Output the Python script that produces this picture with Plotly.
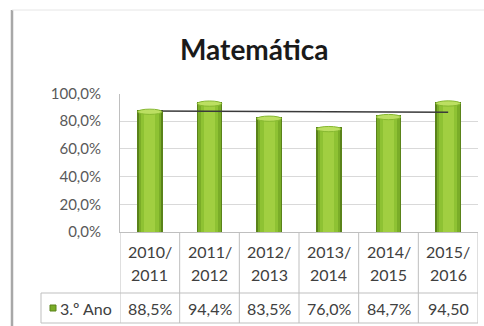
import numpy as np
import plotly.graph_objects as go

W, H = 484, 326

categorias = ["2010/2011", "2011/2012", "2012/2013", "2013/2014", "2014/2015", "2015/2016"]
valores = [88.5, 94.4, 83.5, 76.0, 84.7, 94.5]
rotulos_tabela = ["88,5%", "94,4%", "83,5%", "76,0%", "84,7%", "94,50"]
serie = "3.º Ano"
titulo = "Matemática"
yticks = [0, 20, 40, 60, 80, 100]

FONT = "Lato"
TXT = "#404040"
GRID = "#d9d9d9"
BORDA = "#bfbfbf"


def px(x):
    return x / W


def py(y):
    return 1 - y / H


x = list(range(len(categorias)))
fig = go.Figure()

# cylinder-like shading: overlaid bars, narrower ones lighter
for largura, cor in [(0.43, "#5a831a"), (0.38, "#7aad28"), (0.30, "#8ec233"), (0.18, "#a1cf41")]:
    fig.add_bar(x=x, y=valores, width=largura,
                marker=dict(color=cor, line_width=0),
                hoverinfo="skip", showlegend=False)

shapes = []

# rounded highlight cap on top of each cylinder
for k, v in zip(x, valores):
    shapes.append(dict(type="circle", xref="x", yref="y", layer="above",
                       x0=k - 0.205, x1=k + 0.205, y0=v - 3.6, y1=v + 0.2,
                       fillcolor="#bcdf62", line=dict(color="#86b830", width=1)))

# linear trend line over the series
coef = np.polyfit(x, valores, 1)
xt = [x[0], x[-1]]
fig.add_scatter(x=xt, y=list(np.polyval(coef, xt)), mode="lines",
                line=dict(color="#3a3a3a", width=1.5),
                hoverinfo="skip", showlegend=False)


def linha(x0, y0, x1, y1, cor=BORDA, w=1, xref="paper"):
    shapes.append(dict(type="line", xref=xref, yref="paper",
                       x0=x0, y0=y0, x1=x1, y1=y1,
                       line=dict(color=cor, width=w)))


# outer chart frame
linha(px(12), py(10), px(12), py(326), cor="#a8a8a8", w=2.5)
linha(px(12), py(10), px(484), py(10), cor="#e6e6e6", w=1)

# data table grid
n = len(categorias)
for k in range(n + 1):
    linha(k - 0.5, py(232), k - 0.5, py(323), xref="x")
linha(px(41), py(293), px(478), py(293))
linha(px(41), py(323), px(478), py(323))
linha(px(41), py(293), px(41), py(323))

# legend key in the table
shapes.append(dict(type="rect", xref="paper", yref="paper",
                   x0=px(50), x1=px(56), y0=py(311), y1=py(305),
                   fillcolor="#7aad28", line=dict(color="#5a831a", width=1)))


def texto(t, xv, yv, size=16, xref="x", xanchor="center", cor=TXT, family=FONT):
    return dict(text=t, xref=xref, yref="paper", x=xv, y=yv,
                xanchor=xanchor, yanchor="middle", showarrow=False,
                font=dict(family=family, size=size, color=cor))


anns = [texto(f"<b>{titulo}</b>", px(254), py(49), size=28, xref="paper",
              cor="#1a1a1a")]

for k, cat in enumerate(categorias):
    a, b = cat.split("/")
    anns.append(texto(a + "/", k, py(251)))
    anns.append(texto(b, k, py(274)))
    anns.append(texto(rotulos_tabela[k], k, py(308)))

anns.append(texto(serie, px(58), py(308), xref="paper", xanchor="left"))

fig.update_layout(
    width=W, height=H,
    margin=dict(l=0, r=0, t=0, b=0, autoexpand=False),
    paper_bgcolor="white", plot_bgcolor="white",
    barmode="overlay", bargap=0,
    showlegend=False,
    shapes=shapes, annotations=anns,
    xaxis=dict(domain=[px(120), px(478)], range=[-0.5, n - 0.5],
               showticklabels=False, showgrid=False, zeroline=False,
               showline=True, linecolor=BORDA, linewidth=1, fixedrange=True),
    yaxis=dict(domain=[py(232), py(93.5)], range=[0, 100],
               tickvals=yticks,
               ticktext=[f"{v:.1f}%".replace(".", ",") for v in yticks],
               tickfont=dict(family=FONT, size=15, color="#595959"),
               ticklabelstandoff=15, automargin=False,
               showgrid=True, gridcolor=GRID, gridwidth=1,
               zeroline=False, showline=True, linecolor=BORDA, linewidth=1,
               fixedrange=True),
)

fig.write_html("out.html")
